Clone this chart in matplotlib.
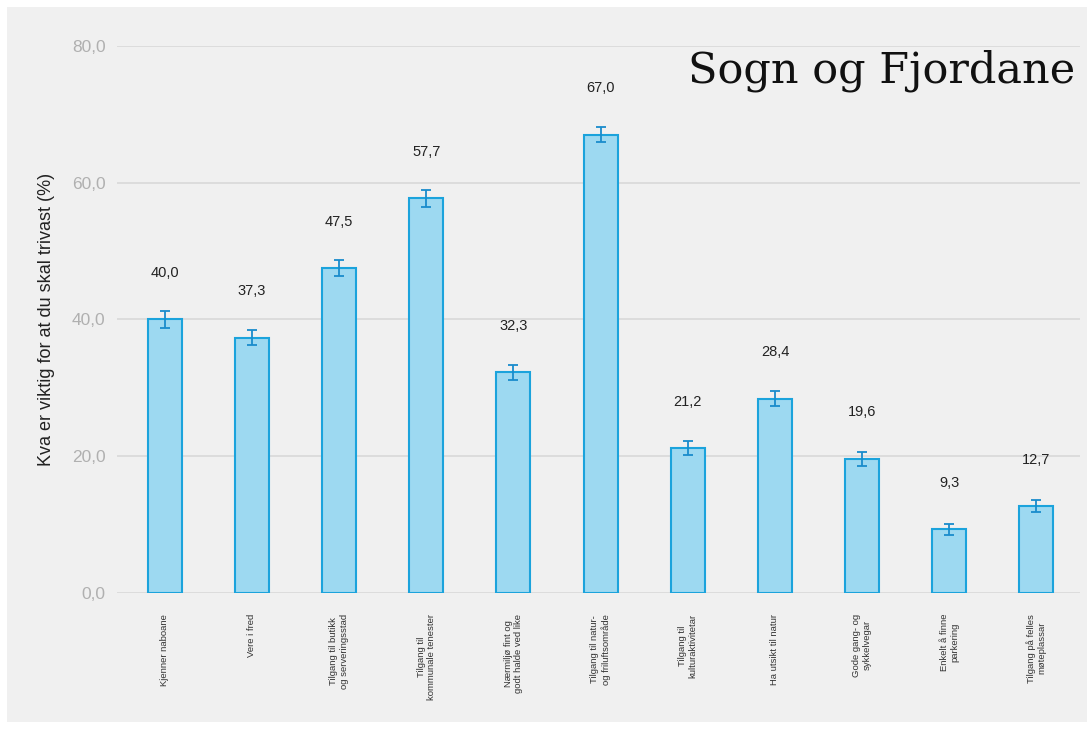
import matplotlib
matplotlib.use("Agg")
import matplotlib.pyplot as plt
from matplotlib.patches import Rectangle

plt.rcParams["font.family"] = ["Liberation Sans", "DejaVu Sans"]

categories = [
    "Kjenner naboane",
    "Vere i fred",
    "Tilgang til butikk\nog serveringsstad",
    "Tilgang til\nkommunale tenester",
    "Nærmiljø fint og\ngodt halde ved like",
    "Tilgang til natur-\nog friluftsområde",
    "Tilgang til\nkulturaktivitetar",
    "Ha utsikt til natur",
    "Gode gang- og\nsykkelvegar",
    "Enkelt å finne\nparkering",
    "Tilgang på felles\nmøteplassar",
]
values = [40.0, 37.3, 47.5, 57.7, 32.3, 67.0, 21.2, 28.4, 19.6, 9.3, 12.7]
errors = [1.2, 1.1, 1.2, 1.2, 1.1, 1.1, 1.0, 1.1, 1.0, 0.8, 0.9]
yticks = [0, 20, 40, 60, 80]

fig = plt.figure(figsize=(10.91, 7.29), dpi=100)
fig.patch.set_facecolor("white")
fig.add_artist(Rectangle((0.006, 0.01), 0.99, 0.98, transform=fig.transFigure,
                         facecolor="#f0f0f0", edgecolor="none", zorder=-10))

ax = fig.add_axes([0.107, 0.1866, 0.883, 0.7504])
ax.set_facecolor("none")
x = list(range(len(categories)))
ax.bar(x, values, width=0.39, color="#9dd9f1", edgecolor="#1ba3dc", linewidth=1.5, zorder=3)
ax.errorbar(x, values, yerr=errors, fmt="none", ecolor="#1a8ccc", elinewidth=1.3,
            capsize=3.5, capthick=1.3, zorder=4)
for xi, v in zip(x, values):
    ax.text(xi, v + 6.8, f"{v:.1f}".replace(".", ","), ha="center", va="center",
            fontsize=10.5, color="#222222")

ax.set_ylim(0, 80)
ax.set_xlim(-0.55, len(categories) - 0.5)
ax.set_yticks(yticks)
ax.set_yticklabels([f"{t:.1f}".replace(".", ",") for t in yticks], fontsize=12.5, color="#b0b0b0")
ax.set_xticks(x)
ax.set_xticklabels(categories, rotation=90, fontsize=6.8, color="#333333", va="top", ha="center")
ax.tick_params(axis="both", length=0)
ax.tick_params(axis="x", pad=15)
ax.tick_params(axis="y", pad=8)
ax.grid(axis="y", color="#d8d8d8", linewidth=1.2, zorder=0)
for s in ax.spines.values():
    s.set_visible(False)
ax.set_ylabel("Kva er viktig for at du skal trivast (%)", fontsize=13, color="#222222", labelpad=12)

fig.text(0.986, 0.887, "Sogn og Fjordane", ha="right", va="baseline", fontsize=31,
         family="DejaVu Serif", color="#111111")

fig.savefig("out.png", dpi=100, facecolor=fig.get_facecolor())
